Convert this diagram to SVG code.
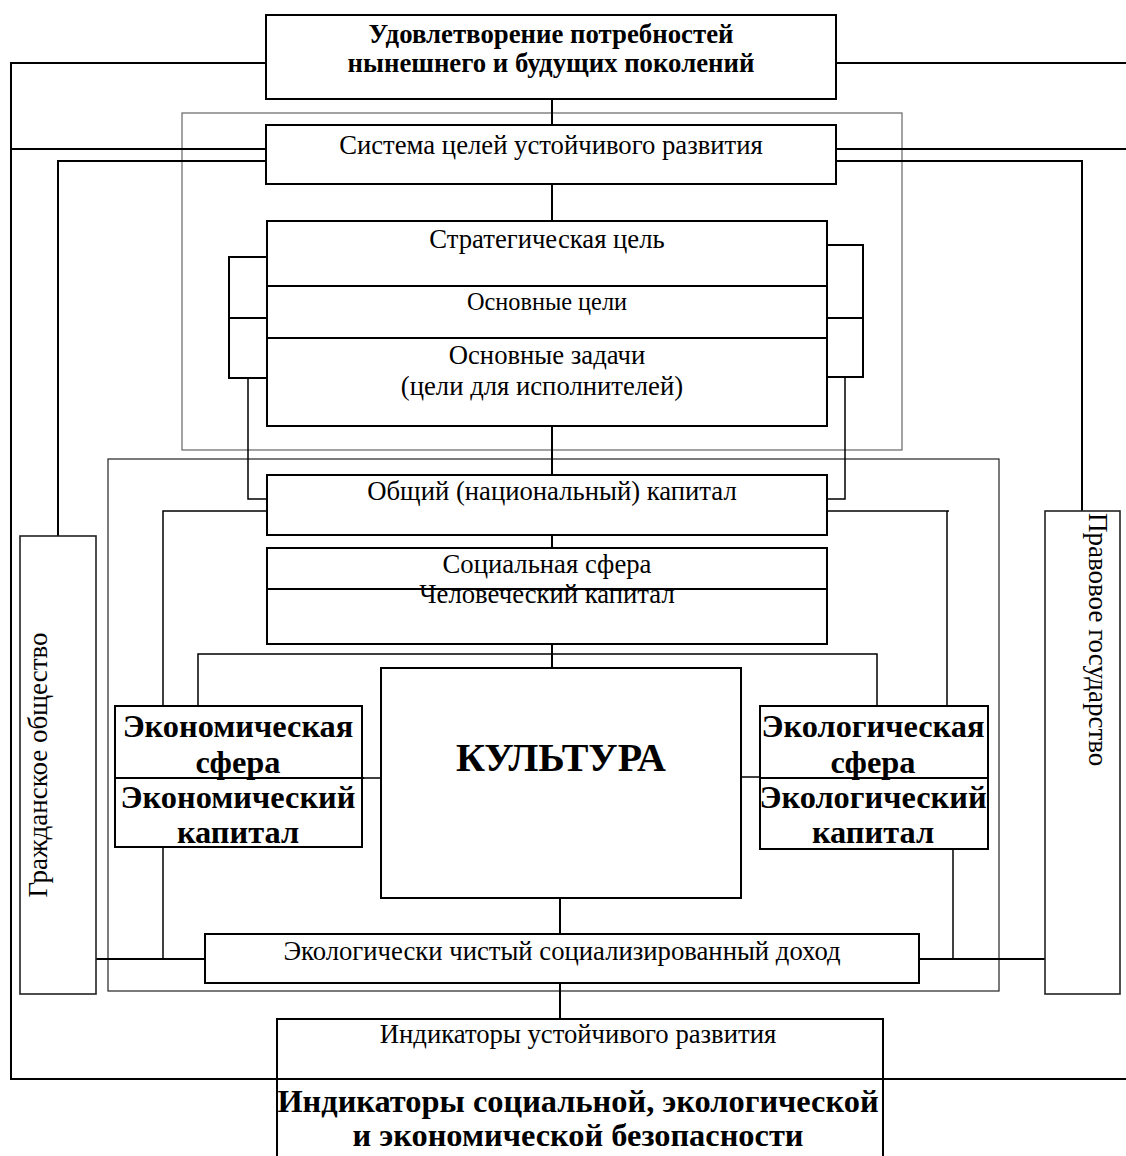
<svg xmlns="http://www.w3.org/2000/svg" width="1126" height="1156" viewBox="0 0 1126 1156">
  <style>
    text { font-family: "Liberation Serif", "Times New Roman", serif; fill: #000; }
    .r { font-size: 26.7px; }
    .rs { font-size: 24.3px; }
    .rv { font-size: 27px; }
    .b { font-size: 26.8px; font-weight: bold; }
    .bb { font-size: 32.4px; font-weight: bold; }
    .bx { fill: #fff; stroke: #000; stroke-width: 2; }
    .vx { fill: #fff; stroke: #222; stroke-width: 1.6; }
    .ln { fill: none; stroke: #000; stroke-width: 2; }
    .lt { fill: none; stroke: #000; stroke-width: 1.5; }
    .frame1 { fill: none; stroke: #666; stroke-width: 1.2; }
    .frame2 { fill: none; stroke: #222; stroke-width: 1.2; }
  </style>
  <rect x="0" y="0" width="1126" height="1156" fill="#fff"/>

  <!-- grouping frames -->
  <g id="frames">
    <rect class="frame1" x="182" y="113" width="720" height="337"/>
    <rect class="frame2" x="108" y="459" width="891" height="532"/>
  </g>

  <!-- connectors -->
  <g id="connectors">
    <!-- outer loop -->
    <polyline class="ln" points="266,63 11,63 11,1079 1126,1079"/>
    <line class="ln" x1="836" y1="63" x2="1126" y2="63"/>
    <line class="ln" x1="11" y1="149" x2="266" y2="149"/>
    <line class="ln" x1="836" y1="149" x2="1126" y2="149"/>
    <polyline class="ln" points="266,161 58,161 58,536"/>
    <polyline class="ln" points="836,161 1082,161 1082,511"/>
    <!-- central spine -->
    <line class="ln" x1="552" y1="99" x2="552" y2="125"/>
    <line class="ln" x1="552" y1="184" x2="552" y2="221"/>
    <line class="ln" x1="552" y1="426" x2="552" y2="475"/>
    <line class="ln" x1="552" y1="535" x2="552" y2="548"/>
    <line class="ln" x1="552" y1="644" x2="552" y2="668"/>
    <line class="ln" x1="560" y1="898" x2="560" y2="934"/>
    <line class="ln" x1="560" y1="983" x2="560" y2="1019"/>
    <!-- goal brackets -->
    <polyline class="ln" points="267,257 229,257 229,378 267,378"/>
    <line class="ln" x1="229" y1="318" x2="267" y2="318"/>
    <polyline class="ln" points="827,245 863,245 863,377 827,377"/>
    <line class="ln" x1="827" y1="318" x2="863" y2="318"/>
    <polyline class="lt" points="248,378 248,499 267,499"/>
    <polyline class="lt" points="845,377 845,499 827,499"/>
    <!-- capital to spheres -->
    <polyline class="lt" points="267,511 163,511 163,706"/>
    <polyline class="lt" points="827,511 949,511"/>
    <line class="lt" x1="947" y1="511" x2="947" y2="706"/>
    <polyline class="lt" points="198,706 198,654 877,654 877,706"/>
    <line class="lt" x1="362" y1="778" x2="381" y2="778"/>
    <line class="lt" x1="741" y1="777" x2="760" y2="777"/>
    <!-- spheres to income -->
    <line class="lt" x1="163" y1="847" x2="163" y2="959"/>
    <line class="lt" x1="953" y1="849" x2="953" y2="959"/>
    <line class="ln" x1="94" y1="959" x2="205" y2="959"/>
    <line class="ln" x1="919" y1="959" x2="1045" y2="959"/>
  </g>

  <g id="needs">
    <rect class="bx" x="266" y="15" width="570" height="84"/>
    <text class="b" x="551" y="43" text-anchor="middle">Удовлетворение потребностей</text>
    <text class="b" x="551" y="72" text-anchor="middle">нынешнего и будущих поколений</text>
  </g>

  <g id="goal-system">
    <rect class="bx" x="266" y="125" width="570" height="59"/>
    <text class="r" x="551" y="154" text-anchor="middle">Система целей устойчивого развития</text>
  </g>

  <g id="goals">
    <rect class="bx" x="267" y="221" width="560" height="205"/>
    <line class="ln" x1="267" y1="286" x2="827" y2="286"/>
    <line class="ln" x1="267" y1="338" x2="827" y2="338"/>
    <text class="r" x="547" y="248" text-anchor="middle">Стратегическая цель</text>
    <text class="rs" x="547" y="310" text-anchor="middle">Основные цели</text>
    <text class="r" x="547" y="364" text-anchor="middle">Основные задачи</text>
    <text class="r" x="542" y="395" text-anchor="middle">(цели для исполнителей)</text>
  </g>

  <g id="national-capital">
    <rect class="bx" x="267" y="475" width="560" height="60"/>
    <text class="r" x="552" y="500" text-anchor="middle">Общий (национальный) капитал</text>
  </g>

  <g id="social">
    <rect class="bx" x="267" y="548" width="560" height="96"/>
    <text class="r" x="547" y="573" text-anchor="middle">Социальная сфера</text>
    <text class="r" x="547" y="603" text-anchor="middle">Человеческий капитал</text>
    <line class="ln" x1="267" y1="589" x2="827" y2="589"/>
  </g>

  <g id="culture">
    <rect class="bx" x="381" y="668" width="360" height="230"/>
    <text x="561" y="771" text-anchor="middle" font-size="40" font-weight="bold">КУЛЬТУРА</text>
  </g>

  <g id="economic">
    <rect class="bx" x="115" y="706" width="247" height="141"/>
    <text class="bb" x="238" y="737" text-anchor="middle">Экономическая</text>
    <text class="bb" x="238" y="773" text-anchor="middle">сфера</text>
    <line class="ln" x1="115" y1="778" x2="364" y2="778"/>
    <text class="bb" x="238" y="808" text-anchor="middle">Экономический</text>
    <text class="bb" x="238" y="843" text-anchor="middle">капитал</text>
  </g>

  <g id="ecological">
    <rect class="bx" x="760" y="706" width="228" height="143"/>
    <text class="bb" x="873" y="737" text-anchor="middle">Экологическая</text>
    <text class="bb" x="873" y="773" text-anchor="middle">сфера</text>
    <line class="ln" x1="760" y1="778" x2="988" y2="778"/>
    <text class="bb" x="873" y="808" text-anchor="middle">Экологический</text>
    <text class="bb" x="873" y="843" text-anchor="middle">капитал</text>
  </g>

  <g id="income">
    <rect class="bx" x="205" y="934" width="714" height="49"/>
    <text class="r" x="562" y="960" text-anchor="middle">Экологически чистый социализированный доход</text>
  </g>

  <g id="civil-society">
    <rect class="vx" x="20" y="536" width="76" height="458"/>
    <text class="rv" transform="translate(47,765) rotate(-90)" text-anchor="middle">Гражданское общество</text>
  </g>

  <g id="rule-of-law">
    <rect class="vx" x="1045" y="511" width="75" height="483"/>
    <text class="rv" transform="translate(1089,513) rotate(90)">Правовое государство</text>
  </g>

  <g id="indicators">
    <rect class="bx" x="277" y="1019" width="606" height="150"/>
    <line class="ln" x1="277" y1="1079" x2="883" y2="1079"/>
    <text class="r" x="578" y="1043" text-anchor="middle">Индикаторы устойчивого развития</text>
    <text class="bb" x="578" y="1112" text-anchor="middle">Индикаторы социальной, экологической</text>
    <text class="bb" x="578" y="1146" text-anchor="middle">и экономической безопасности</text>
  </g>
</svg>
